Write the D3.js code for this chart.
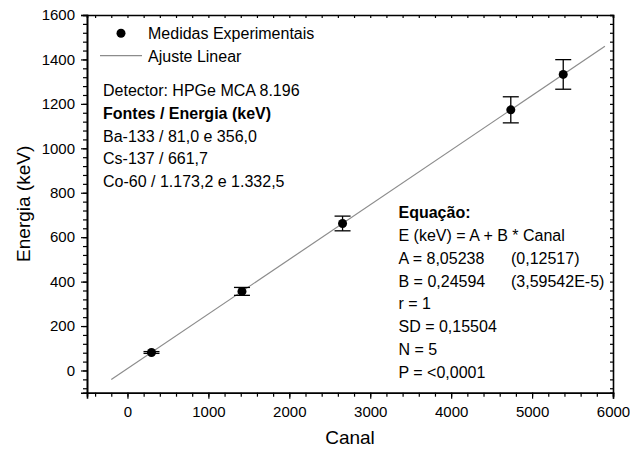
<!DOCTYPE html>
<html>
<head>
<meta charset="utf-8">
<script src="https://cdn.jsdelivr.net/npm/d3@7"></script>
<style>
  body { margin: 0; background: #fff; }
  svg { display: block; font-family: "Liberation Sans", Arial, sans-serif; }
</style>
</head>
<body>
<div id="chart"></div>
<script>
// calibration points: channel vs. gamma energy (keV), 5% error on energy
const canal = [297, 1415, 2658, 4737, 5385]
const energia = [81.0, 356.0, 661.7, 1173.2, 1332.5]
const erroEnergia = [4.05, 17.8, 33.1, 58.7, 66.6]

// linear fit E = A + B * Canal
const fitA = 8.05238
const fitB = 0.24594
const fitRange = [-200, 5900]

const xTicks = [0, 1000, 2000, 3000, 4000, 5000, 6000]
const yTicks = [0, 200, 400, 600, 800, 1000, 1200, 1400, 1600]

const infoLines = [
  { text: 'Detector: HPGe MCA 8.196', bold: false },
  { text: 'Fontes / Energia (keV)', bold: true },
  { text: 'Ba-133 / 81,0 e 356,0', bold: false },
  { text: 'Cs-137 / 661,7', bold: false },
  { text: 'Co-60 / 1.173,2 e 1.332,5', bold: false }
]

const equationLines = [
  { text: 'Equação:', bold: true },
  { text: 'E (keV) = A + B * Canal' },
  { text: 'A = 8,05238', extra: '(0,12517)' },
  { text: 'B = 0,24594', extra: '(3,59542E-5)' },
  { text: 'r = 1' },
  { text: 'SD = 0,15504' },
  { text: 'N = 5' },
  { text: 'P = <0,0001' }
]

const width = 630
const height = 452
const margin = { top: 15, right: 17, bottom: 60, left: 87 }

const svg = d3.select('#chart')
  .append('svg')
  .attr('width', width)
  .attr('height', height)

const x = d3.scaleLinear()
  .domain([-500, 6000])
  .range([margin.left, width - margin.right])

const y = d3.scaleLinear()
  .domain([-100, 1600])
  .range([height - margin.bottom + 0.7, margin.top])

const xMinor = d3.range(-400, 6001, 200)
const yMinor = d3.range(-80, 1601, 40)

// bottom axis: minor then major ticks, outward
const bottomAxis = svg.append('g')
  .attr('transform', `translate(0, ${y.range()[0]})`)
bottomAxis.append('g')
  .call(d3.axisBottom(x).tickValues(xMinor).tickSize(4).tickFormat(''))
bottomAxis.append('g')
  .call(d3.axisBottom(x).tickValues(xTicks).tickSize(6).tickPadding(8).tickFormat(d3.format('d')))

// left axis
const leftAxis = svg.append('g')
  .attr('transform', `translate(${x.range()[0]}, 0)`)
leftAxis.append('g')
  .call(d3.axisLeft(y).tickValues(yMinor).tickSize(4).tickFormat(''))
leftAxis.append('g')
  .call(d3.axisLeft(y).tickValues(yTicks).tickSize(6).tickPadding(6).tickFormat(d3.format('d')))

// top and right mirror axes with inward ticks
const topAxis = svg.append('g')
  .attr('transform', `translate(0, ${y.range()[1]})`)
topAxis.append('g')
  .call(d3.axisBottom(x).tickValues(xMinor).tickSize(3).tickFormat(''))

const rightAxis = svg.append('g')
  .attr('transform', `translate(${x.range()[1]}, 0)`)
rightAxis.append('g')
  .call(d3.axisLeft(y).tickValues(yMinor).tickSize(3).tickFormat(''))

svg.selectAll('.domain')
  .attr('stroke', '#000')
  .attr('stroke-width', 1.6)
svg.selectAll('.tick line')
  .attr('stroke', '#000')
  .attr('stroke-width', 1.2)
svg.selectAll('.tick text')
  .attr('font-size', 15)
  .attr('font-family', '"Liberation Sans", Arial, sans-serif')
  .attr('fill', '#000')

// axis titles
svg.append('text')
  .attr('x', (x.range()[0] + x.range()[1]) / 2)
  .attr('y', 444)
  .attr('text-anchor', 'middle')
  .attr('font-size', 19)
  .text('Canal')

svg.append('text')
  .attr('transform', `translate(30, ${(y.range()[0] + y.range()[1]) / 2}) rotate(-90)`)
  .attr('text-anchor', 'middle')
  .attr('font-size', 19)
  .text('Energia (keV)')

// fit line
const fitLine = d3.line()
  .x(d => x(d))
  .y(d => y(fitA + fitB * d))

svg.append('path')
  .datum(fitRange)
  .attr('d', fitLine)
  .attr('fill', 'none')
  .attr('stroke', '#8c8c8c')
  .attr('stroke-width', 1.2)

// error bars and points
const points = canal.map((c, i) => ({ c, e: energia[i], err: erroEnergia[i] }))

const bars = svg.append('g')
  .selectAll('g')
  .data(points)
  .join('g')
  .attr('stroke', '#000')
  .attr('stroke-width', 1.3)

bars.append('line')
  .attr('x1', d => x(d.c))
  .attr('x2', d => x(d.c))
  .attr('y1', d => y(d.e - d.err))
  .attr('y2', d => y(d.e + d.err))
bars.append('line')
  .attr('x1', d => x(d.c) - 8)
  .attr('x2', d => x(d.c) + 8)
  .attr('y1', d => y(d.e + d.err))
  .attr('y2', d => y(d.e + d.err))
bars.append('line')
  .attr('x1', d => x(d.c) - 8)
  .attr('x2', d => x(d.c) + 8)
  .attr('y1', d => y(d.e - d.err))
  .attr('y2', d => y(d.e - d.err))

svg.append('g')
  .selectAll('circle')
  .data(points)
  .join('circle')
  .attr('cx', d => x(d.c))
  .attr('cy', d => y(d.e))
  .attr('r', 4.5)
  .attr('fill', '#000')

// legend
const legend = svg.append('g').attr('font-size', 16)
legend.append('circle')
  .attr('cx', 121)
  .attr('cy', 33.3)
  .attr('r', 4.5)
  .attr('fill', '#000')
legend.append('text')
  .attr('x', 148)
  .attr('y', 39)
  .text('Medidas Experimentais')
legend.append('line')
  .attr('x1', 100)
  .attr('x2', 142)
  .attr('y1', 55.7)
  .attr('y2', 55.7)
  .attr('stroke', '#8c8c8c')
  .attr('stroke-width', 1.2)
legend.append('text')
  .attr('x', 148)
  .attr('y', 61.5)
  .text('Ajuste Linear')

// detector / source info
svg.append('g')
  .attr('font-size', 16)
  .selectAll('text')
  .data(infoLines)
  .join('text')
  .attr('x', 103)
  .attr('y', (d, i) => 96.4 + i * 22.6)
  .attr('font-weight', d => d.bold ? 'bold' : 'normal')
  .text(d => d.text)

// fit results, with standard errors in a second column
const eq = svg.append('g').attr('font-size', 16)
eq.selectAll('text.main')
  .data(equationLines)
  .join('text')
  .attr('class', 'main')
  .attr('x', 398.5)
  .attr('y', (d, i) => 218.4 + i * 22.75)
  .attr('font-weight', d => d.bold ? 'bold' : 'normal')
  .text(d => d.text)
eq.selectAll('text.extra')
  .data(equationLines.filter(d => d.extra))
  .join('text')
  .attr('class', 'extra')
  .attr('x', 511)
  .attr('y', d => 218.4 + equationLines.indexOf(d) * 22.75)
  .text(d => d.extra)
</script>
</body>
</html>
